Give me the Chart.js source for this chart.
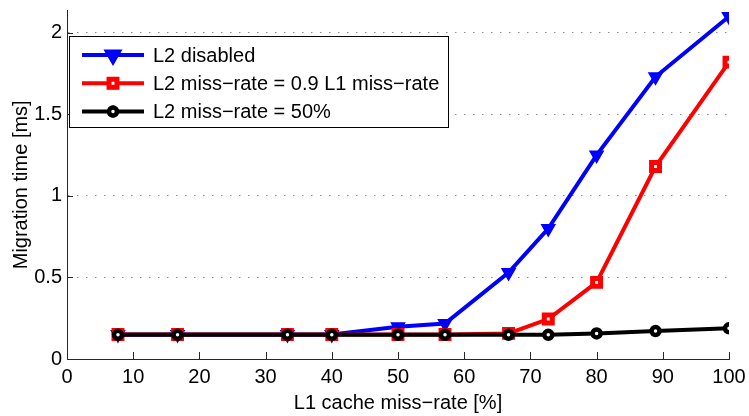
<!DOCTYPE html>
<html>
<head>
<meta charset="utf-8">
<script src="https://cdn.jsdelivr.net/npm/chart.js@4.4.1/dist/chart.umd.min.js"></script>
<style>
  html, body { margin: 0; padding: 0; background: #fff; }
  #wrap { width: 749px; height: 416px; position: relative; }
</style>
</head>
<body>
<div id="wrap"><canvas id="myChart"></canvas></div>
<script>
const missRate = [7.7, 16.7, 33.3, 40, 50, 57.1, 66.7, 72.7, 80, 88.9, 100];
const l2Disabled = [0.15, 0.15, 0.15, 0.15, 0.198, 0.218, 0.53, 0.80, 1.25, 1.73, 2.10];
const l2Scaled = [0.15, 0.15, 0.15, 0.15, 0.15, 0.15, 0.157, 0.245, 0.47, 1.18, 1.82];
const l2Half = [0.148, 0.148, 0.148, 0.148, 0.148, 0.148, 0.148, 0.148, 0.157, 0.171, 0.188];
const yTicks = [0, 0.5, 1, 1.5, 2];
const seriesNames = ['L2 disabled', 'L2 miss\u2212rate = 0.9 L1 miss\u2212rate', 'L2 miss\u2212rate = 50%'];

const FONT = 'Liberation Sans, Arial, Helvetica, sans-serif';

function toPoints(ys) {
    return missRate.map((x, i) => ({ x: x, y: ys[i] }));
}

// inward tick marks + boxed legend, matlab style
const extras = {
    id: 'extras',
    afterDraw(chart) {
        const ctx = chart.ctx;
        const xs = chart.scales.x, ys = chart.scales.y;
        const area = chart.chartArea;
        ctx.save();
        ctx.strokeStyle = '#262626';
        ctx.lineWidth = 1;
        ctx.beginPath();
        xs.ticks.forEach(t => {
            const px = Math.round(xs.getPixelForValue(t.value)) + 0.5;
            ctx.moveTo(px, area.bottom);
            ctx.lineTo(px, area.bottom - 7);
        });
        ys.ticks.forEach(t => {
            const py = Math.round(ys.getPixelForValue(t.value)) + 0.5;
            ctx.moveTo(area.left, py);
            ctx.lineTo(area.left + 6, py);
        });
        ctx.stroke();

        // legend
        const bx = 69.5, by = 36.5, bw = 379, bh = 91;
        ctx.fillStyle = '#fff';
        ctx.fillRect(bx, by, bw, bh);
        ctx.strokeStyle = '#000';
        ctx.strokeRect(bx, by, bw, bh);
        ctx.font = '20px ' + FONT;
        ctx.textBaseline = 'middle';
        ctx.textAlign = 'left';
        chart.data.datasets.forEach((ds, i) => {
            const cy = 55 + i * 28.3;
            ctx.strokeStyle = ds.borderColor;
            ctx.lineWidth = ds.borderWidth;
            ctx.beginPath();
            ctx.moveTo(82, cy);
            ctx.lineTo(144, cy);
            ctx.stroke();
            Chart.helpers.drawPoint(ctx, {
                pointStyle: ds.pointStyle,
                rotation: ds.pointRotation || 0,
                radius: ds.pointRadius,
                borderWidth: ds.pointBorderWidth
            }, 113, cy);
            ctx.fillStyle = ds.pointBackgroundColor;
            ctx.strokeStyle = ds.borderColor;
            ctx.lineWidth = ds.pointBorderWidth;
            ctx.fill();
            ctx.stroke();
            ctx.fillStyle = '#000';
            ctx.fillText(seriesNames[i], 153, cy + 1);
        });
        ctx.restore();
    }
};

new Chart(document.getElementById('myChart'), {
    type: 'line',
    data: {
        datasets: [{
            label: seriesNames[0],
            data: toPoints(l2Disabled),
            borderColor: '#0000ff',
            borderWidth: 4,
            pointStyle: 'triangle',
            pointRotation: 180,
            pointRadius: 7,
            pointBackgroundColor: '#0000ff',
            pointBorderColor: '#0000ff',
            pointBorderWidth: 2,
            order: 3
        }, {
            label: seriesNames[1],
            data: toPoints(l2Scaled),
            borderColor: '#ff0000',
            borderWidth: 4,
            pointStyle: 'rect',
            pointRadius: 5.6,
            pointBackgroundColor: '#ffffff',
            pointBorderColor: '#ff0000',
            pointBorderWidth: 5,
            order: 2
        }, {
            label: seriesNames[2],
            data: toPoints(l2Half),
            borderColor: '#000000',
            borderWidth: 4,
            pointStyle: 'circle',
            pointRadius: 4,
            pointBackgroundColor: '#ffffff',
            pointBorderColor: '#000000',
            pointBorderWidth: 4.5,
            order: 1
        }]
    },
    options: {
        responsive: true,
        maintainAspectRatio: false,
        animation: false,
        layout: { padding: { top: 0, right: 20, left: 0, bottom: 0 } },
        plugins: {
            legend: { display: false },
            tooltip: { enabled: false }
        },
        scales: {
            x: {
                type: 'linear',
                min: 0,
                max: 100,
                ticks: {
                    stepSize: 10,
                    color: '#000',
                    font: { family: FONT, size: 20 },
                    padding: 6,
                    maxRotation: 0
                },
                grid: { drawOnChartArea: false, drawTicks: false },
                border: { color: '#262626', width: 1 },
                title: {
                    display: true,
                    text: 'L1 cache miss\u2212rate [%]',
                    color: '#000',
                    font: { family: FONT, size: 20 },
                    padding: { top: 0, bottom: 1 }
                },
                afterFit(s) { s.height = 57; s.paddingLeft = 0; s.paddingRight = 0; }
            },
            y: {
                min: 0,
                max: 2.136,
                afterBuildTicks(s) { s.ticks = yTicks.map(v => ({ value: v })); },
                ticks: {
                    color: '#000',
                    font: { family: FONT, size: 20 },
                    padding: 5,
                    callback: v => String(v)
                },
                grid: {
                    drawTicks: false,
                    color: ctx => ctx.tick && ctx.tick.value === 0 ? 'rgba(0,0,0,0)' : '#8c8c8c',
                    lineWidth: 1
                },
                border: { color: '#262626', width: 1, dash: [1.5, 7.5] },
                title: {
                    display: true,
                    text: 'Migration time [ms]',
                    color: '#000',
                    font: { family: FONT, size: 20 },
                    padding: { top: 9, bottom: 0 }
                },
                afterFit(s) { s.width = 67; s.paddingTop = 0; s.paddingBottom = 0; }
            }
        }
    },
    plugins: [extras]
});
</script>
</body>
</html>
